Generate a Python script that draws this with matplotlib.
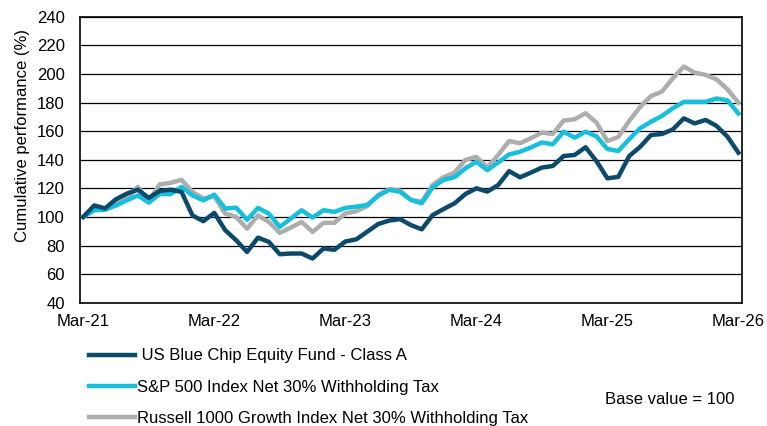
import numpy as np
import matplotlib.pyplot as plt
from matplotlib.lines import Line2D

plt.rcParams['font.family'] = ['Liberation Sans', 'DejaVu Sans']

# Monthly cumulative performance, Mar-21 .. Mar-26 (base = 100)
fund = [100, 108, 106, 112.4, 116.3, 119, 113.3, 118.2, 119, 117.5, 101, 97,
        102.8, 90.7, 83.7, 75.5, 85.5, 82.5, 73.9, 74.4, 74.4, 70.9, 77.9, 77,
        82.8, 84.3, 89.6, 95, 97.4, 98.5, 94.3, 91.3, 101.3, 105.5, 109.5, 116,
        120, 117.7, 122.3, 132, 127.7, 131, 134.5, 135.6, 142.6, 143.3, 148.7, 139,
        127, 128, 142.6, 149, 157.3, 158, 161.2, 168.9, 165.4, 167.8, 163.6, 156.1,
        144.9]
sp500 = [100, 104.7, 105, 108, 111.6, 115, 110, 116, 115.9, 121, 115, 111.6,
         115.6, 105.8, 106.5, 98, 106.3, 102.3, 93, 98.8, 104.7, 99.5, 104.7, 103.5,
         106.3, 107.2, 108.3, 114.7, 118.9, 117.7, 111.9, 109.5, 120.7, 125.9, 127.8, 134,
         138.6, 132.7, 138.1, 143.7, 145.6, 148.6, 152.1, 150.7, 159.6, 155.4, 159.6, 156.3,
         147.5, 146.1, 154.3, 162, 166.6, 170.6, 176, 180.5, 180.5, 180.5, 182.8, 181.5,
         172.3]
russell = [100, 105, 106, 110.5, 113.5, 121, 111, 122.8, 123.8, 126, 117.5, 112.8,
           114.5, 102.3, 100, 91.8, 101, 96.5, 88.8, 92.5, 96.5, 89.5, 95.8, 95.9,
           102.4, 104, 107.6, 115.3, 119.3, 118.4, 111.9, 110.7, 122.4, 127.8, 131, 139.9,
           142, 134.7, 143.3, 153.1, 151.5, 155, 159, 158, 167.4, 168.3, 172.5, 166,
           153, 155.9, 167.1, 176.9, 184.6, 187.6, 197, 205.1, 200.9, 199.3, 196.2, 189.2,
           179.9]

labels = [' US Blue Chip Equity Fund - Class A',
          'S&P 500 Index Net 30% Withholding Tax',
          'Russell 1000 Growth Index Net 30% Withholding Tax']
colors = ['#0C4A6C', '#17BFDD', '#ADADAD']
tick_labels = ['Mar-21', 'Mar-22', 'Mar-23', 'Mar-24', 'Mar-25', 'Mar-26']

months = np.arange(len(fund))
fs = 12

fig = plt.figure(figsize=(7.67, 4.26), dpi=100)
ax = fig.add_axes([0.1043, 0.2894, 0.8627, 0.6714])

ax.plot(months, russell, color=colors[2], lw=3.2, zorder=2)
ax.plot(months, sp500, color=colors[1], lw=3.2, zorder=3)
ax.plot(months, fund, color=colors[0], lw=3.2, zorder=4)

ax.set_xlim(-0.3, 60.3)
ax.set_ylim(40, 240)
ax.set_yticks(np.arange(40, 241, 20))
ax.set_xticks(np.arange(0, 61, 12))
ax.set_xticklabels(tick_labels)
ax.tick_params(length=0, labelsize=fs)
ax.tick_params(axis='y', pad=11)
ax.tick_params(axis='x', pad=8)
ax.grid(axis='y', color='black', lw=0.9)
for s in ax.spines.values():
    s.set_color('black')
    s.set_linewidth(1.2)
ax.set_ylabel('Cumulative performance (%)', fontsize=fs)
ax.yaxis.set_label_coords(-0.076, 0.583)

handles = [Line2D([], [], color=c, lw=3.2) for c in colors]
fig.legend(handles, labels, loc='upper left', bbox_to_anchor=(0.116, 0.182),
           frameon=False, fontsize=fs, handlelength=2.75, handletextpad=0.12,
           labelspacing=0.98, borderaxespad=0, borderpad=0)
fig.text(0.958, 0.063, 'Base value = 100', ha='right', va='center', fontsize=fs)

fig.savefig('out.png', dpi=100)
